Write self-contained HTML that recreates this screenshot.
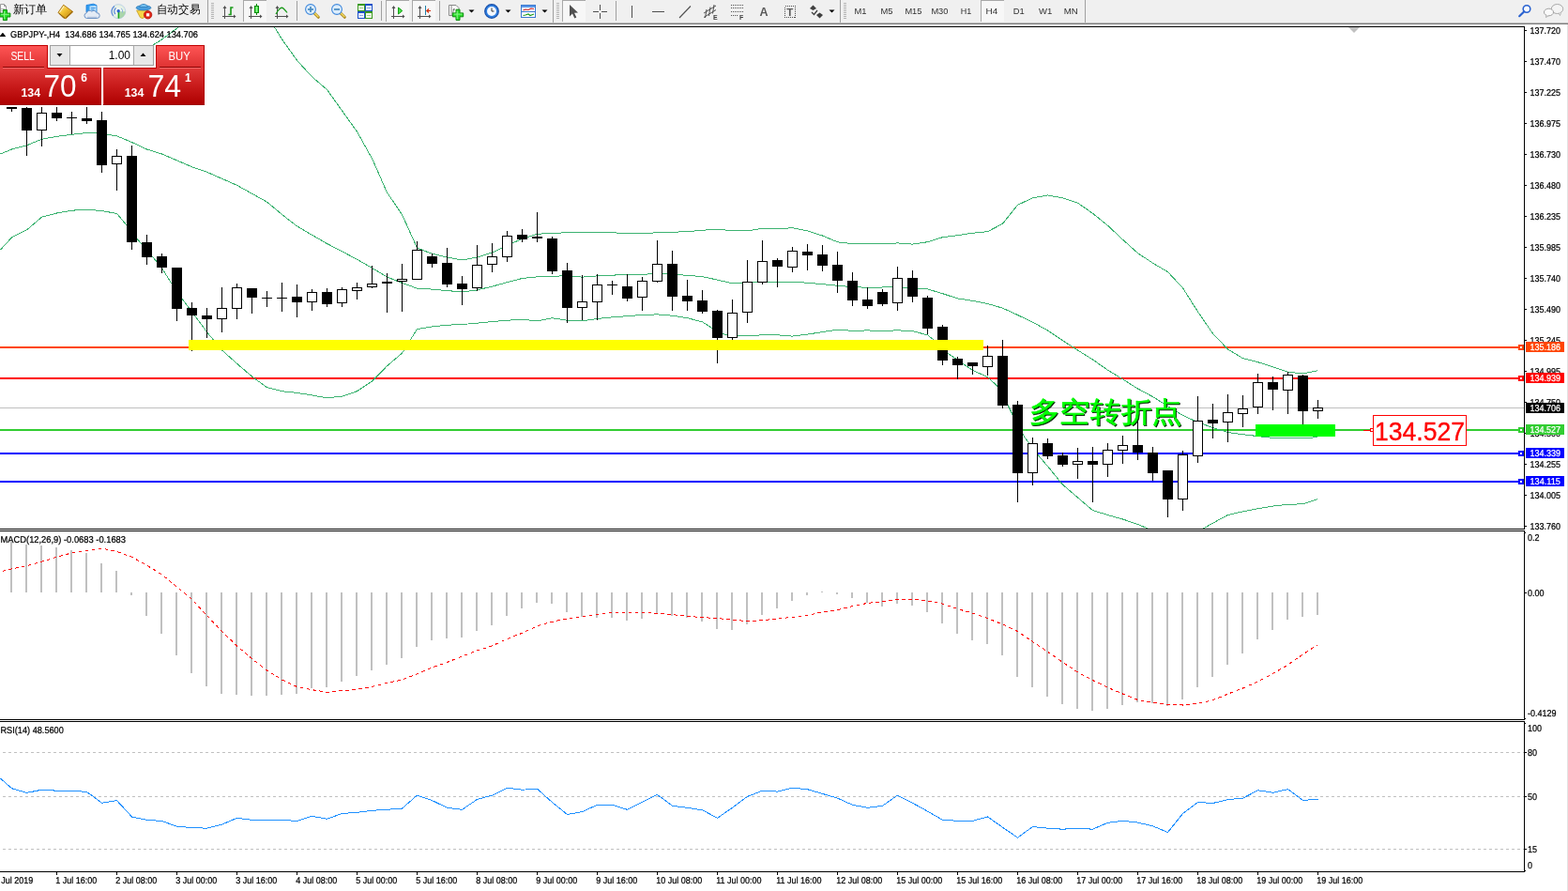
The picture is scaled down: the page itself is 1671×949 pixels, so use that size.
<!DOCTYPE html>
<html lang="zh"><head><meta charset="utf-8"><title>GBPJPY-,H4</title>
<style>
html,body{margin:0;padding:0;background:#fff;}
body{width:1671px;height:949px;overflow:hidden;position:relative;font-family:"Liberation Sans", sans-serif;}
svg{position:absolute;left:0;top:0;display:block;}
svg text{font-family:"Liberation Sans", sans-serif;white-space:pre;}
.ce{shape-rendering:crispEdges;}
</style></head><body>
<svg width="1671" height="949" viewBox="0 0 1671 949">
<defs>
<linearGradient id="gSell" x1="0" y1="0" x2="0" y2="1"><stop offset="0" stop-color="#ff5656"/><stop offset="1" stop-color="#dc3030"/></linearGradient>
<linearGradient id="gPrice" x1="0" y1="0" x2="0" y2="1"><stop offset="0" stop-color="#e03a3a"/><stop offset="0.5" stop-color="#c81a1a"/><stop offset="1" stop-color="#ad0000"/></linearGradient>
<clipPath id="cMain"><rect x="0" y="29" width="1624" height="534"/></clipPath>
<clipPath id="cMacd"><rect x="0" y="566" width="1624" height="200"/></clipPath>
<clipPath id="cRsi"><rect x="0" y="769" width="1624" height="159"/></clipPath>
</defs>
<rect x="0" y="0" width="1671" height="949" fill="#fff"/>

<g id="main" class="ce" clip-path="url(#cMain)">
<rect x="0" y="434" width="1624" height="1" fill="#c0c0c0" />
<rect x="0" y="369" width="1624" height="2" fill="#ff4500" />
<rect x="0" y="402" width="1624" height="2" fill="#ff0000" />
<rect x="0" y="457" width="1624" height="2" fill="#32cd32" />
<rect x="0" y="482" width="1624" height="2" fill="#0000ff" />
<rect x="0" y="512" width="1624" height="2" fill="#0000ff" />
</g>
<g id="bands" clip-path="url(#cMain)">
<polyline class="ce" points="100.5,80.5 140.5,60.5 158.5,50.5 165.5,46.5 172.5,42.0 180.5,36.0 189.5,29.5 200.5,20.5 240.5,5.5 280.5,18.5 292.6,29.0 300.5,41.9 316.5,64.3 332.5,81.8 348.5,95.5 364.5,117.9 380.5,140.3 396.5,168.9 412.5,205.0 428.5,228.6 444.5,264.1 460.5,270.3 476.5,274.0 492.5,277.0 508.5,274.0 524.5,269.0 540.5,261.5 556.5,254.3 572.5,249.3 588.5,248.3 604.5,247.8 620.5,247.8 636.5,247.8 652.5,247.8 668.5,248.5 684.5,248.5 700.5,247.8 716.5,247.3 732.5,246.6 748.5,245.3 764.5,244.1 780.5,245.8 796.5,245.8 812.5,243.3 828.5,243.6 844.5,242.8 860.5,245.8 876.5,251.0 892.5,257.8 908.5,259.7 924.5,259.7 940.5,259.9 956.5,258.9 972.5,260.1 988.5,257.7 1004.5,252.7 1020.5,250.7 1036.5,248.2 1052.5,246.7 1068.5,238.3 1084.5,218.3 1100.5,210.9 1116.5,207.9 1132.5,210.9 1148.5,216.1 1164.5,227.3 1180.5,240.2 1196.5,255.2 1212.5,269.6 1228.5,280.2 1244.5,289.6 1260.5,306.8 1276.5,332.0 1292.5,355.3 1308.5,372.0 1324.5,381.7 1340.5,385.7 1356.5,390.8 1372.5,396.2 1388.5,397.9 1404.5,394.7" fill="none" stroke="#3cb371" stroke-width="1" />
<polyline class="ce" points="0.5,164.0 12.5,159.0 28.5,154.8 44.5,148.3 60.5,145.3 76.5,143.3 92.5,141.5 108.5,142.3 124.5,144.8 140.5,151.5 156.5,159.0 172.5,164.0 188.5,170.9 204.5,177.7 220.5,183.2 236.5,190.3 252.5,197.3 268.5,206.2 284.5,215.1 300.5,228.5 316.5,240.9 332.5,250.3 348.5,259.5 364.5,267.8 380.5,276.3 396.5,285.5 412.5,295.0 428.5,301.4 444.5,307.1 460.5,308.1 476.5,309.6 492.5,310.9 508.5,308.9 524.5,305.1 540.5,300.7 556.5,296.5 572.5,294.9 588.5,294.1 604.5,293.9 620.5,295.1 636.5,293.9 652.5,293.1 668.5,292.6 684.5,292.6 700.5,290.9 716.5,292.1 732.5,293.4 748.5,294.6 764.5,298.1 780.5,301.8 796.5,301.3 812.5,300.1 828.5,300.1 844.5,300.1 860.5,301.3 876.5,302.6 892.5,304.3 908.5,305.6 924.5,306.3 940.5,306.0 956.5,305.6 972.5,307.3 988.5,307.9 1004.5,312.7 1020.5,317.9 1036.5,320.4 1052.5,323.5 1068.5,328.2 1084.5,335.5 1100.5,343.2 1116.5,351.9 1132.5,362.7 1148.5,373.0 1164.5,383.0 1180.5,394.2 1196.5,403.9 1212.5,414.0 1228.5,422.6 1244.5,432.5 1260.5,442.5 1276.5,449.7 1292.5,455.6 1308.5,460.5 1324.5,462.7 1340.5,464.6 1356.5,466.4 1372.5,467.0 1388.5,466.9 1404.5,465.5" fill="none" stroke="#3cb371" stroke-width="1" />
<polyline class="ce" points="0.5,266.0 12.5,252.9 28.5,244.9 44.5,231.2 60.5,227.0 76.5,224.2 92.5,223.2 108.5,224.5 124.5,227.5 134.9,239.9 147.5,256.1 156.5,266.0 172.5,285.5 188.5,311.0 204.5,332.0 220.5,353.7 236.5,372.9 252.5,387.3 268.5,401.0 284.5,412.7 300.5,416.7 316.5,418.4 332.5,420.9 348.5,423.9 364.5,422.1 380.5,416.7 396.5,406.0 412.5,389.8 428.5,376.1 444.5,350.5 460.5,348.0 476.5,346.2 492.5,345.5 508.5,344.2 524.5,342.5 540.5,341.2 556.5,340.3 572.5,341.8 588.5,338.7 604.5,341.2 620.5,341.9 636.5,339.4 652.5,337.9 668.5,336.7 684.5,335.4 700.5,334.9 716.5,336.2 732.5,338.7 748.5,342.9 759.5,349.9 772.1,356.1 780.5,357.5 796.5,357.8 812.5,356.8 828.5,356.8 844.5,358.1 860.5,356.1 876.5,353.6 892.5,351.1 908.5,352.4 924.5,351.9 940.5,352.6 956.5,351.8 972.5,352.7 988.5,356.8 995.3,362.2 1004.5,370.5 1011.5,377.2 1020.5,383.5 1036.5,394.4 1052.5,401.6 1062.5,411.0 1068.5,420.5 1075.5,434.4 1084.5,452.5 1091.5,465.0 1100.5,477.5 1108.5,487.3 1116.5,496.6 1132.5,516.2 1148.5,529.9 1164.5,543.6 1180.5,548.5 1196.5,553.0 1212.5,558.5 1224.5,563.5 1240.5,568.5 1260.5,569.5 1281.5,563.5 1292.5,557.2 1308.5,548.5 1324.5,544.8 1340.5,541.8 1356.5,539.1 1372.5,537.3 1388.5,536.8 1404.5,531.6" fill="none" stroke="#3cb371" stroke-width="1" />
</g>
<g id="candles" class="ce" clip-path="url(#cMain)">
<rect x="12" y="114" width="1" height="5" fill="#000" />
<rect x="7" y="114" width="11" height="2" fill="#000" />
<rect x="28" y="114" width="1" height="52" fill="#000" />
<rect x="23" y="115" width="11" height="24" fill="#000" />
<rect x="44" y="114" width="1" height="42" fill="#000" />
<rect x="39" y="120" width="11" height="19" fill="#000" />
<rect x="40" y="121" width="9" height="17" fill="#fff" />
<rect x="60" y="114" width="1" height="15" fill="#000" />
<rect x="55" y="120" width="11" height="6" fill="#000" />
<rect x="76" y="119" width="1" height="24" fill="#000" />
<rect x="71" y="125" width="11" height="1" fill="#000" />
<rect x="92" y="114" width="1" height="18" fill="#000" />
<rect x="87" y="126" width="11" height="3" fill="#000" />
<rect x="108" y="119" width="1" height="65" fill="#000" />
<rect x="103" y="128" width="11" height="48" fill="#000" />
<rect x="124" y="159" width="1" height="44" fill="#000" />
<rect x="119" y="166" width="11" height="9" fill="#000" />
<rect x="120" y="167" width="9" height="7" fill="#fff" />
<rect x="140" y="155" width="1" height="111" fill="#000" />
<rect x="135" y="166" width="11" height="92" fill="#000" />
<rect x="156" y="250" width="1" height="32" fill="#000" />
<rect x="151" y="258" width="11" height="16" fill="#000" />
<rect x="172" y="270" width="1" height="21" fill="#000" />
<rect x="167" y="273" width="11" height="12" fill="#000" />
<rect x="188" y="285" width="1" height="57" fill="#000" />
<rect x="183" y="285" width="11" height="44" fill="#000" />
<rect x="204" y="322" width="1" height="52" fill="#000" />
<rect x="199" y="328" width="11" height="8" fill="#000" />
<rect x="220" y="328" width="1" height="32" fill="#000" />
<rect x="215" y="336" width="11" height="4" fill="#000" />
<rect x="236" y="306" width="1" height="48" fill="#000" />
<rect x="231" y="328" width="11" height="12" fill="#000" />
<rect x="232" y="329" width="9" height="10" fill="#fff" />
<rect x="252" y="302" width="1" height="38" fill="#000" />
<rect x="247" y="306" width="11" height="23" fill="#000" />
<rect x="248" y="307" width="9" height="21" fill="#fff" />
<rect x="268" y="307" width="1" height="27" fill="#000" />
<rect x="263" y="307" width="11" height="10" fill="#000" />
<rect x="284" y="310" width="1" height="17" fill="#000" />
<rect x="279" y="317" width="11" height="1" fill="#000" />
<rect x="300" y="301" width="1" height="31" fill="#000" />
<rect x="295" y="317" width="11" height="1" fill="#000" />
<rect x="316" y="303" width="1" height="35" fill="#000" />
<rect x="311" y="316" width="11" height="6" fill="#000" />
<rect x="332" y="308" width="1" height="23" fill="#000" />
<rect x="327" y="311" width="11" height="11" fill="#000" />
<rect x="328" y="312" width="9" height="9" fill="#fff" />
<rect x="348" y="307" width="1" height="20" fill="#000" />
<rect x="343" y="311" width="11" height="13" fill="#000" />
<rect x="364" y="306" width="1" height="21" fill="#000" />
<rect x="359" y="308" width="11" height="15" fill="#000" />
<rect x="360" y="309" width="9" height="13" fill="#fff" />
<rect x="380" y="301" width="1" height="18" fill="#000" />
<rect x="375" y="306" width="11" height="4" fill="#000" />
<rect x="376" y="307" width="9" height="2" fill="#fff" />
<rect x="396" y="283" width="1" height="24" fill="#000" />
<rect x="391" y="302" width="11" height="4" fill="#000" />
<rect x="392" y="303" width="9" height="2" fill="#fff" />
<rect x="412" y="291" width="1" height="42" fill="#000" />
<rect x="407" y="300" width="11" height="2" fill="#000" />
<rect x="428" y="281" width="1" height="51" fill="#000" />
<rect x="423" y="297" width="11" height="3" fill="#000" />
<rect x="424" y="298" width="9" height="1" fill="#fff" />
<rect x="444" y="257" width="1" height="41" fill="#000" />
<rect x="439" y="266" width="11" height="32" fill="#000" />
<rect x="440" y="267" width="9" height="30" fill="#fff" />
<rect x="460" y="270" width="1" height="15" fill="#000" />
<rect x="455" y="273" width="11" height="8" fill="#000" />
<rect x="476" y="264" width="1" height="42" fill="#000" />
<rect x="471" y="280" width="11" height="23" fill="#000" />
<rect x="492" y="294" width="1" height="31" fill="#000" />
<rect x="487" y="302" width="11" height="6" fill="#000" />
<rect x="508" y="261" width="1" height="49" fill="#000" />
<rect x="503" y="282" width="11" height="25" fill="#000" />
<rect x="504" y="283" width="9" height="23" fill="#fff" />
<rect x="524" y="259" width="1" height="31" fill="#000" />
<rect x="519" y="273" width="11" height="9" fill="#000" />
<rect x="520" y="274" width="9" height="7" fill="#fff" />
<rect x="540" y="246" width="1" height="33" fill="#000" />
<rect x="535" y="251" width="11" height="23" fill="#000" />
<rect x="536" y="252" width="9" height="21" fill="#fff" />
<rect x="556" y="244" width="1" height="14" fill="#000" />
<rect x="551" y="250" width="11" height="5" fill="#000" />
<rect x="572" y="226" width="1" height="32" fill="#000" />
<rect x="567" y="252" width="11" height="2" fill="#000" />
<rect x="588" y="252" width="1" height="40" fill="#000" />
<rect x="583" y="254" width="11" height="35" fill="#000" />
<rect x="604" y="280" width="1" height="64" fill="#000" />
<rect x="599" y="288" width="11" height="40" fill="#000" />
<rect x="620" y="293" width="1" height="48" fill="#000" />
<rect x="615" y="321" width="11" height="7" fill="#000" />
<rect x="616" y="322" width="9" height="5" fill="#fff" />
<rect x="636" y="292" width="1" height="49" fill="#000" />
<rect x="631" y="303" width="11" height="19" fill="#000" />
<rect x="632" y="304" width="9" height="17" fill="#fff" />
<rect x="652" y="299" width="1" height="15" fill="#000" />
<rect x="647" y="303" width="11" height="1" fill="#000" />
<rect x="668" y="292" width="1" height="29" fill="#000" />
<rect x="663" y="305" width="11" height="13" fill="#000" />
<rect x="684" y="295" width="1" height="36" fill="#000" />
<rect x="679" y="299" width="11" height="18" fill="#000" />
<rect x="680" y="300" width="9" height="16" fill="#fff" />
<rect x="700" y="256" width="1" height="45" fill="#000" />
<rect x="695" y="281" width="11" height="19" fill="#000" />
<rect x="696" y="282" width="9" height="17" fill="#fff" />
<rect x="716" y="267" width="1" height="64" fill="#000" />
<rect x="711" y="281" width="11" height="35" fill="#000" />
<rect x="732" y="298" width="1" height="33" fill="#000" />
<rect x="727" y="315" width="11" height="6" fill="#000" />
<rect x="748" y="309" width="1" height="25" fill="#000" />
<rect x="743" y="320" width="11" height="12" fill="#000" />
<rect x="764" y="330" width="1" height="57" fill="#000" />
<rect x="759" y="331" width="11" height="29" fill="#000" />
<rect x="780" y="319" width="1" height="43" fill="#000" />
<rect x="775" y="333" width="11" height="27" fill="#000" />
<rect x="776" y="334" width="9" height="25" fill="#fff" />
<rect x="796" y="277" width="1" height="67" fill="#000" />
<rect x="791" y="300" width="11" height="33" fill="#000" />
<rect x="792" y="301" width="9" height="31" fill="#fff" />
<rect x="812" y="256" width="1" height="47" fill="#000" />
<rect x="807" y="278" width="11" height="23" fill="#000" />
<rect x="808" y="279" width="9" height="21" fill="#fff" />
<rect x="828" y="275" width="1" height="31" fill="#000" />
<rect x="823" y="277" width="11" height="7" fill="#000" />
<rect x="844" y="263" width="1" height="27" fill="#000" />
<rect x="839" y="267" width="11" height="18" fill="#000" />
<rect x="840" y="268" width="9" height="16" fill="#fff" />
<rect x="860" y="260" width="1" height="28" fill="#000" />
<rect x="855" y="268" width="11" height="4" fill="#000" />
<rect x="876" y="261" width="1" height="28" fill="#000" />
<rect x="871" y="271" width="11" height="12" fill="#000" />
<rect x="892" y="268" width="1" height="44" fill="#000" />
<rect x="887" y="282" width="11" height="17" fill="#000" />
<rect x="908" y="290" width="1" height="36" fill="#000" />
<rect x="903" y="299" width="11" height="21" fill="#000" />
<rect x="924" y="306" width="1" height="23" fill="#000" />
<rect x="919" y="319" width="11" height="7" fill="#000" />
<rect x="940" y="308" width="1" height="18" fill="#000" />
<rect x="935" y="311" width="11" height="13" fill="#000" />
<rect x="956" y="284" width="1" height="47" fill="#000" />
<rect x="951" y="296" width="11" height="27" fill="#000" />
<rect x="952" y="297" width="9" height="25" fill="#fff" />
<rect x="972" y="288" width="1" height="34" fill="#000" />
<rect x="967" y="296" width="11" height="20" fill="#000" />
<rect x="988" y="315" width="1" height="41" fill="#000" />
<rect x="983" y="317" width="11" height="33" fill="#000" />
<rect x="1004" y="346" width="1" height="43" fill="#000" />
<rect x="999" y="348" width="11" height="36" fill="#000" />
<rect x="1020" y="380" width="1" height="24" fill="#000" />
<rect x="1015" y="382" width="11" height="7" fill="#000" />
<rect x="1036" y="386" width="1" height="13" fill="#000" />
<rect x="1031" y="386" width="11" height="4" fill="#000" />
<rect x="1052" y="368" width="1" height="32" fill="#000" />
<rect x="1047" y="379" width="11" height="12" fill="#000" />
<rect x="1048" y="380" width="9" height="10" fill="#fff" />
<rect x="1068" y="362" width="1" height="73" fill="#000" />
<rect x="1063" y="379" width="11" height="53" fill="#000" />
<rect x="1084" y="427" width="1" height="108" fill="#000" />
<rect x="1079" y="431" width="11" height="73" fill="#000" />
<rect x="1100" y="466" width="1" height="51" fill="#000" />
<rect x="1095" y="472" width="11" height="32" fill="#000" />
<rect x="1096" y="473" width="9" height="30" fill="#fff" />
<rect x="1116" y="467" width="1" height="22" fill="#000" />
<rect x="1111" y="472" width="11" height="14" fill="#000" />
<rect x="1132" y="482" width="1" height="15" fill="#000" />
<rect x="1127" y="485" width="11" height="10" fill="#000" />
<rect x="1148" y="477" width="1" height="33" fill="#000" />
<rect x="1143" y="491" width="11" height="4" fill="#000" />
<rect x="1144" y="492" width="9" height="2" fill="#fff" />
<rect x="1164" y="476" width="1" height="59" fill="#000" />
<rect x="1159" y="491" width="11" height="4" fill="#000" />
<rect x="1180" y="472" width="1" height="36" fill="#000" />
<rect x="1175" y="479" width="11" height="16" fill="#000" />
<rect x="1176" y="480" width="9" height="14" fill="#fff" />
<rect x="1196" y="464" width="1" height="30" fill="#000" />
<rect x="1191" y="474" width="11" height="6" fill="#000" />
<rect x="1192" y="475" width="9" height="4" fill="#fff" />
<rect x="1212" y="444" width="1" height="46" fill="#000" />
<rect x="1207" y="474" width="11" height="8" fill="#000" />
<rect x="1228" y="476" width="1" height="36" fill="#000" />
<rect x="1223" y="482" width="11" height="22" fill="#000" />
<rect x="1244" y="501" width="1" height="50" fill="#000" />
<rect x="1239" y="501" width="11" height="31" fill="#000" />
<rect x="1260" y="480" width="1" height="64" fill="#000" />
<rect x="1255" y="484" width="11" height="48" fill="#000" />
<rect x="1256" y="485" width="9" height="46" fill="#fff" />
<rect x="1276" y="422" width="1" height="71" fill="#000" />
<rect x="1271" y="448" width="11" height="38" fill="#000" />
<rect x="1272" y="449" width="9" height="36" fill="#fff" />
<rect x="1292" y="430" width="1" height="37" fill="#000" />
<rect x="1287" y="447" width="11" height="4" fill="#000" />
<rect x="1308" y="420" width="1" height="51" fill="#000" />
<rect x="1303" y="439" width="11" height="11" fill="#000" />
<rect x="1304" y="440" width="9" height="9" fill="#fff" />
<rect x="1324" y="421" width="1" height="34" fill="#000" />
<rect x="1319" y="435" width="11" height="6" fill="#000" />
<rect x="1320" y="436" width="9" height="4" fill="#fff" />
<rect x="1340" y="398" width="1" height="43" fill="#000" />
<rect x="1335" y="407" width="11" height="27" fill="#000" />
<rect x="1336" y="408" width="9" height="25" fill="#fff" />
<rect x="1356" y="401" width="1" height="36" fill="#000" />
<rect x="1351" y="407" width="11" height="8" fill="#000" />
<rect x="1372" y="396" width="1" height="45" fill="#000" />
<rect x="1367" y="399" width="11" height="17" fill="#000" />
<rect x="1368" y="400" width="9" height="15" fill="#fff" />
<rect x="1388" y="399" width="1" height="53" fill="#000" />
<rect x="1383" y="400" width="11" height="38" fill="#000" />
<rect x="1404" y="426" width="1" height="20" fill="#000" />
<rect x="1399" y="434" width="11" height="4" fill="#000" />
<rect x="1400" y="435" width="9" height="2" fill="#fff" />
</g>
<g id="objs" class="ce">
<rect x="201" y="362" width="847" height="11" fill="#ffff00" />
<rect x="1338" y="452" width="85" height="13" fill="#00ff00" />
</g>
<text x="1096.8" y="449" font-size="30" font-weight="500" fill="#002000" stroke="#002000" stroke-width="0.6" textLength="163" lengthAdjust="spacingAndGlyphs" font-family='"Liberation Sans", "Noto Sans CJK SC", sans-serif' transform="translate(1,1)">多空转折点</text>
<text x="1096.8" y="449" font-size="30" font-weight="500" fill="#00ff00" stroke="#00ff00" stroke-width="0.6" textLength="163" lengthAdjust="spacingAndGlyphs" font-family='"Liberation Sans", "Noto Sans CJK SC", sans-serif'>多空转折点</text>
<g class="ce">
<rect x="1453" y="458" width="8" height="1" fill="#ff0000" />
<rect x="1460.5" y="456.5" width="3" height="3" fill="#fff" stroke="#ff0000" stroke-width="1"/>
<rect x="1463.5" y="442.5" width="99" height="32" fill="#fff" stroke="#ff0000" stroke-width="1"/>
</g>
<text x="1465" y="469" font-size="28" fill="#ff0000" textLength="96.0" lengthAdjust="spacingAndGlyphs" stroke="#ff0000" stroke-width="0.35">134.527</text>
<g id="frames" class="ce">
<rect x="0" y="28" width="1625" height="1" fill="#000" />
<rect x="1624" y="28" width="1" height="535" fill="#000" />
<rect x="0" y="563" width="1625" height="1" fill="#000" />
<rect x="0" y="565" width="1625" height="1" fill="#000" />
<rect x="1624" y="565" width="1" height="201" fill="#000" />
<rect x="0" y="766" width="1625" height="1" fill="#000" />
<rect x="0" y="768" width="1625" height="1" fill="#000" />
<rect x="1624" y="768" width="1" height="160" fill="#000" />
<rect x="0" y="928" width="1625" height="1" fill="#000" />
<rect x="1625" y="567" width="1" height="1" fill="#000" />
<rect x="1625" y="765" width="1" height="1" fill="#000" />
<rect x="1625" y="770" width="1" height="1" fill="#000" />
<rect x="1625" y="927" width="1" height="1" fill="#000" />
</g>
<g id="paxis">
<rect class="ce" x="1625" y="32" width="2" height="1" fill="#000"/>
<text transform="translate(1630.5,36) rotate(0.03) scale(1,1.1)" font-size="9" fill="#000" stroke="#000" stroke-width="0.22" textLength="32.4" lengthAdjust="spacingAndGlyphs" >137.720</text>
<rect class="ce" x="1625" y="65" width="2" height="1" fill="#000"/>
<text transform="translate(1630.5,69) rotate(0.03) scale(1,1.1)" font-size="9" fill="#000" stroke="#000" stroke-width="0.22" textLength="32.4" lengthAdjust="spacingAndGlyphs" >137.470</text>
<rect class="ce" x="1625" y="98" width="2" height="1" fill="#000"/>
<text transform="translate(1630.5,102) rotate(0.03) scale(1,1.1)" font-size="9" fill="#000" stroke="#000" stroke-width="0.22" textLength="32.4" lengthAdjust="spacingAndGlyphs" >137.225</text>
<rect class="ce" x="1625" y="131" width="2" height="1" fill="#000"/>
<text transform="translate(1630.5,135) rotate(0.03) scale(1,1.1)" font-size="9" fill="#000" stroke="#000" stroke-width="0.22" textLength="32.4" lengthAdjust="spacingAndGlyphs" >136.975</text>
<rect class="ce" x="1625" y="164" width="2" height="1" fill="#000"/>
<text transform="translate(1630.5,168) rotate(0.03) scale(1,1.1)" font-size="9" fill="#000" stroke="#000" stroke-width="0.22" textLength="32.4" lengthAdjust="spacingAndGlyphs" >136.730</text>
<rect class="ce" x="1625" y="197" width="2" height="1" fill="#000"/>
<text transform="translate(1630.5,201) rotate(0.03) scale(1,1.1)" font-size="9" fill="#000" stroke="#000" stroke-width="0.22" textLength="32.4" lengthAdjust="spacingAndGlyphs" >136.480</text>
<rect class="ce" x="1625" y="230" width="2" height="1" fill="#000"/>
<text transform="translate(1630.5,234) rotate(0.03) scale(1,1.1)" font-size="9" fill="#000" stroke="#000" stroke-width="0.22" textLength="32.4" lengthAdjust="spacingAndGlyphs" >136.235</text>
<rect class="ce" x="1625" y="263" width="2" height="1" fill="#000"/>
<text transform="translate(1630.5,267) rotate(0.03) scale(1,1.1)" font-size="9" fill="#000" stroke="#000" stroke-width="0.22" textLength="32.4" lengthAdjust="spacingAndGlyphs" >135.985</text>
<rect class="ce" x="1625" y="296" width="2" height="1" fill="#000"/>
<text transform="translate(1630.5,300) rotate(0.03) scale(1,1.1)" font-size="9" fill="#000" stroke="#000" stroke-width="0.22" textLength="32.4" lengthAdjust="spacingAndGlyphs" >135.740</text>
<rect class="ce" x="1625" y="329" width="2" height="1" fill="#000"/>
<text transform="translate(1630.5,333) rotate(0.03) scale(1,1.1)" font-size="9" fill="#000" stroke="#000" stroke-width="0.22" textLength="32.4" lengthAdjust="spacingAndGlyphs" >135.490</text>
<rect class="ce" x="1625" y="362" width="2" height="1" fill="#000"/>
<text transform="translate(1630.5,366) rotate(0.03) scale(1,1.1)" font-size="9" fill="#000" stroke="#000" stroke-width="0.22" textLength="32.4" lengthAdjust="spacingAndGlyphs" >135.245</text>
<rect class="ce" x="1625" y="395" width="2" height="1" fill="#000"/>
<text transform="translate(1630.5,399) rotate(0.03) scale(1,1.1)" font-size="9" fill="#000" stroke="#000" stroke-width="0.22" textLength="32.4" lengthAdjust="spacingAndGlyphs" >134.995</text>
<rect class="ce" x="1625" y="428" width="2" height="1" fill="#000"/>
<text transform="translate(1630.5,432) rotate(0.03) scale(1,1.1)" font-size="9" fill="#000" stroke="#000" stroke-width="0.22" textLength="32.4" lengthAdjust="spacingAndGlyphs" >134.750</text>
<rect class="ce" x="1625" y="461" width="2" height="1" fill="#000"/>
<text transform="translate(1630.5,465) rotate(0.03) scale(1,1.1)" font-size="9" fill="#000" stroke="#000" stroke-width="0.22" textLength="32.4" lengthAdjust="spacingAndGlyphs" >134.500</text>
<rect class="ce" x="1625" y="494" width="2" height="1" fill="#000"/>
<text transform="translate(1630.5,498) rotate(0.03) scale(1,1.1)" font-size="9" fill="#000" stroke="#000" stroke-width="0.22" textLength="32.4" lengthAdjust="spacingAndGlyphs" >134.255</text>
<rect class="ce" x="1625" y="527" width="2" height="1" fill="#000"/>
<text transform="translate(1630.5,531) rotate(0.03) scale(1,1.1)" font-size="9" fill="#000" stroke="#000" stroke-width="0.22" textLength="32.4" lengthAdjust="spacingAndGlyphs" >134.005</text>
<rect class="ce" x="1625" y="560" width="2" height="1" fill="#000"/>
<text transform="translate(1630.5,564) rotate(0.03) scale(1,1.1)" font-size="9" fill="#000" stroke="#000" stroke-width="0.22" textLength="32.4" lengthAdjust="spacingAndGlyphs" >133.760</text>
</g>
<rect x="1618" y="367" width="6" height="6" fill="#ff4500" class="ce"/>
<rect x="1620" y="369" width="2" height="2" fill="#fff" class="ce"/>
<rect x="1626" y="364" width="41" height="11" fill="#ff4500" class="ce"/>
<text transform="translate(1630.5,373) rotate(0.03) scale(1,1.1)" font-size="9" fill="#fff" stroke="#fff" stroke-width="0.22" textLength="32.4" lengthAdjust="spacingAndGlyphs" >135.186</text>
<rect x="1618" y="400" width="6" height="6" fill="#ff0000" class="ce"/>
<rect x="1620" y="402" width="2" height="2" fill="#fff" class="ce"/>
<rect x="1626" y="397" width="41" height="11" fill="#ff0000" class="ce"/>
<text transform="translate(1630.5,406) rotate(0.03) scale(1,1.1)" font-size="9" fill="#fff" stroke="#fff" stroke-width="0.22" textLength="32.4" lengthAdjust="spacingAndGlyphs" >134.939</text>
<rect x="1618" y="455" width="6" height="6" fill="#32cd32" class="ce"/>
<rect x="1620" y="457" width="2" height="2" fill="#fff" class="ce"/>
<rect x="1626" y="452" width="41" height="11" fill="#32cd32" class="ce"/>
<text transform="translate(1630.5,461) rotate(0.03) scale(1,1.1)" font-size="9" fill="#fff" stroke="#fff" stroke-width="0.22" textLength="32.4" lengthAdjust="spacingAndGlyphs" >134.527</text>
<rect x="1618" y="480" width="6" height="6" fill="#0000ff" class="ce"/>
<rect x="1620" y="482" width="2" height="2" fill="#fff" class="ce"/>
<rect x="1626" y="477" width="41" height="11" fill="#0000ff" class="ce"/>
<text transform="translate(1630.5,486) rotate(0.03) scale(1,1.1)" font-size="9" fill="#fff" stroke="#fff" stroke-width="0.22" textLength="32.4" lengthAdjust="spacingAndGlyphs" >134.339</text>
<rect x="1618" y="510" width="6" height="6" fill="#0000ff" class="ce"/>
<rect x="1620" y="512" width="2" height="2" fill="#fff" class="ce"/>
<rect x="1626" y="507" width="41" height="11" fill="#0000ff" class="ce"/>
<text transform="translate(1630.5,516) rotate(0.03) scale(1,1.1)" font-size="9" fill="#fff" stroke="#fff" stroke-width="0.22" textLength="32.4" lengthAdjust="spacingAndGlyphs" >134.115</text>
<rect x="1626" y="429" width="41" height="11" fill="#000" class="ce"/>
<text transform="translate(1630.5,438) rotate(0.03) scale(1,1.1)" font-size="9" fill="#fff" stroke="#fff" stroke-width="0.22" textLength="32.4" lengthAdjust="spacingAndGlyphs" >134.706</text>
<polygon points="1437,29 1449,29 1443,35" fill="#c0c0c0"/>
<polygon points="-0.5,39 2.6,35 3.2,35 6.3,39" fill="#000"/>
<text transform="translate(11,40) rotate(0.03) scale(1,1.1)" font-size="9" fill="#000" stroke="#000" stroke-width="0.22" textLength="200.0" lengthAdjust="spacingAndGlyphs" >GBPJPY-,H4  134.686 134.765 134.624 134.706</text>
<g id="oneclick">
<rect x="0" y="48" width="218" height="64" fill="#fff" class="ce"/>
<rect x="0" y="48" width="51" height="25" fill="url(#gSell)" />
<rect x="0" y="72" width="108" height="40" fill="url(#gPrice)" />
<rect x="166" y="48" width="52" height="25" fill="url(#gSell)" />
<rect x="110" y="72" width="108" height="40" fill="url(#gPrice)" />
<g class="ce">
<rect x="0" y="48" width="51" height="1" fill="#c00000" />
<rect x="50" y="48" width="1" height="25" fill="#c00000" />
<rect x="50" y="72" width="58" height="1" fill="#c00000" />
<rect x="107" y="72" width="1" height="40" fill="#b00000" />
<rect x="166" y="48" width="52" height="1" fill="#c00000" />
<rect x="166" y="48" width="1" height="25" fill="#c00000" />
<rect x="110" y="72" width="57" height="1" fill="#c00000" />
<rect x="217" y="48" width="1" height="64" fill="#b00000" />
<rect x="110" y="72" width="1" height="40" fill="#c83030" />
<rect x="0" y="111" width="108" height="1" fill="#a00000" />
<rect x="110" y="111" width="108" height="1" fill="#a00000" />
<rect x="3" y="71" width="44" height="1" fill="#8b0000" />
<rect x="3" y="72" width="44" height="1" fill="#f46a6a" />
<rect x="170" y="71" width="44" height="1" fill="#8b0000" />
<rect x="170" y="72" width="44" height="1" fill="#f46a6a" />
<rect x="53.5" y="48.5" width="110" height="21" fill="#fff" stroke="#a0a0a0" stroke-width="1"/>
<rect x="54" y="49" width="20" height="20" fill="#e8e8e8" />
<rect x="74" y="49" width="1" height="20" fill="#a8a8a8" />
<rect x="143" y="49" width="20" height="20" fill="#e8e8e8" />
<rect x="142" y="49" width="1" height="20" fill="#a8a8a8" />
</g>
<polygon points="60.5,57 66.5,57 63.5,60.5" fill="#000"/>
<polygon points="149.5,60 155.5,60 152.5,56.5" fill="#000"/>
<text x="139" y="63" font-size="12" fill="#000" text-anchor="end" >1.00</text>
<text x="11.4" y="64" font-size="12" fill="#fff" textLength="25.5" lengthAdjust="spacingAndGlyphs" >SELL</text>
<text x="179.5" y="64" font-size="12" fill="#fff" textLength="23.2" lengthAdjust="spacingAndGlyphs" >BUY</text>
<text x="22.5" y="103" font-size="12" fill="#fff" font-weight="bold" textLength="20.6" lengthAdjust="spacingAndGlyphs" >134</text>
<text x="46.6" y="103" font-size="34" fill="#fff" textLength="35.0" lengthAdjust="spacingAndGlyphs" >70</text>
<text x="86.3" y="86.8" font-size="12" fill="#fff" font-weight="bold" >6</text>
<text x="132.7" y="103" font-size="12" fill="#fff" font-weight="bold" textLength="20.6" lengthAdjust="spacingAndGlyphs" >134</text>
<text x="157.5" y="103" font-size="34" fill="#fff" textLength="35.7" lengthAdjust="spacingAndGlyphs" >74</text>
<text x="197" y="86.8" font-size="12" fill="#fff" font-weight="bold" >1</text>
</g>
<g id="macd" class="ce" clip-path="url(#cMacd)">
<rect x="11" y="577" width="2" height="54" fill="#c0c0c0" />
<rect x="27" y="580" width="2" height="51" fill="#c0c0c0" />
<rect x="43" y="581" width="2" height="50" fill="#c0c0c0" />
<rect x="59" y="583" width="2" height="48" fill="#c0c0c0" />
<rect x="75" y="586" width="2" height="45" fill="#c0c0c0" />
<rect x="91" y="589" width="2" height="42" fill="#c0c0c0" />
<rect x="107" y="600" width="2" height="31" fill="#c0c0c0" />
<rect x="123" y="608" width="2" height="23" fill="#c0c0c0" />
<rect x="139" y="631" width="2" height="3" fill="#c0c0c0" />
<rect x="155" y="631" width="2" height="25" fill="#c0c0c0" />
<rect x="171" y="631" width="2" height="44" fill="#c0c0c0" />
<rect x="187" y="631" width="2" height="67" fill="#c0c0c0" />
<rect x="203" y="631" width="2" height="86" fill="#c0c0c0" />
<rect x="219" y="631" width="2" height="100" fill="#c0c0c0" />
<rect x="235" y="631" width="2" height="108" fill="#c0c0c0" />
<rect x="251" y="631" width="2" height="109" fill="#c0c0c0" />
<rect x="267" y="631" width="2" height="110" fill="#c0c0c0" />
<rect x="283" y="631" width="2" height="110" fill="#c0c0c0" />
<rect x="299" y="631" width="2" height="109" fill="#c0c0c0" />
<rect x="315" y="631" width="2" height="108" fill="#c0c0c0" />
<rect x="331" y="631" width="2" height="102" fill="#c0c0c0" />
<rect x="347" y="631" width="2" height="101" fill="#c0c0c0" />
<rect x="363" y="631" width="2" height="95" fill="#c0c0c0" />
<rect x="379" y="631" width="2" height="89" fill="#c0c0c0" />
<rect x="395" y="631" width="2" height="83" fill="#c0c0c0" />
<rect x="411" y="631" width="2" height="77" fill="#c0c0c0" />
<rect x="427" y="631" width="2" height="70" fill="#c0c0c0" />
<rect x="443" y="631" width="2" height="58" fill="#c0c0c0" />
<rect x="459" y="631" width="2" height="51" fill="#c0c0c0" />
<rect x="475" y="631" width="2" height="49" fill="#c0c0c0" />
<rect x="491" y="631" width="2" height="48" fill="#c0c0c0" />
<rect x="507" y="631" width="2" height="41" fill="#c0c0c0" />
<rect x="523" y="631" width="2" height="35" fill="#c0c0c0" />
<rect x="539" y="631" width="2" height="25" fill="#c0c0c0" />
<rect x="555" y="631" width="2" height="17" fill="#c0c0c0" />
<rect x="571" y="631" width="2" height="11" fill="#c0c0c0" />
<rect x="587" y="631" width="2" height="12" fill="#c0c0c0" />
<rect x="603" y="631" width="2" height="21" fill="#c0c0c0" />
<rect x="619" y="631" width="2" height="26" fill="#c0c0c0" />
<rect x="635" y="631" width="2" height="27" fill="#c0c0c0" />
<rect x="651" y="631" width="2" height="27" fill="#c0c0c0" />
<rect x="667" y="631" width="2" height="30" fill="#c0c0c0" />
<rect x="683" y="631" width="2" height="28" fill="#c0c0c0" />
<rect x="699" y="631" width="2" height="22" fill="#c0c0c0" />
<rect x="715" y="631" width="2" height="25" fill="#c0c0c0" />
<rect x="731" y="631" width="2" height="27" fill="#c0c0c0" />
<rect x="747" y="631" width="2" height="31" fill="#c0c0c0" />
<rect x="763" y="631" width="2" height="39" fill="#c0c0c0" />
<rect x="779" y="631" width="2" height="40" fill="#c0c0c0" />
<rect x="795" y="631" width="2" height="34" fill="#c0c0c0" />
<rect x="811" y="631" width="2" height="24" fill="#c0c0c0" />
<rect x="827" y="631" width="2" height="17" fill="#c0c0c0" />
<rect x="843" y="631" width="2" height="9" fill="#c0c0c0" />
<rect x="859" y="631" width="2" height="3" fill="#c0c0c0" />
<rect x="875" y="630" width="2" height="1" fill="#c0c0c0" />
<rect x="891" y="631" width="2" height="2" fill="#c0c0c0" />
<rect x="907" y="631" width="2" height="6" fill="#c0c0c0" />
<rect x="923" y="631" width="2" height="11" fill="#c0c0c0" />
<rect x="939" y="631" width="2" height="15" fill="#c0c0c0" />
<rect x="955" y="631" width="2" height="12" fill="#c0c0c0" />
<rect x="971" y="631" width="2" height="14" fill="#c0c0c0" />
<rect x="987" y="631" width="2" height="21" fill="#c0c0c0" />
<rect x="1003" y="631" width="2" height="33" fill="#c0c0c0" />
<rect x="1019" y="631" width="2" height="44" fill="#c0c0c0" />
<rect x="1035" y="631" width="2" height="51" fill="#c0c0c0" />
<rect x="1051" y="631" width="2" height="55" fill="#c0c0c0" />
<rect x="1067" y="631" width="2" height="67" fill="#c0c0c0" />
<rect x="1083" y="631" width="2" height="90" fill="#c0c0c0" />
<rect x="1099" y="631" width="2" height="101" fill="#c0c0c0" />
<rect x="1115" y="631" width="2" height="111" fill="#c0c0c0" />
<rect x="1131" y="631" width="2" height="119" fill="#c0c0c0" />
<rect x="1147" y="631" width="2" height="124" fill="#c0c0c0" />
<rect x="1163" y="631" width="2" height="126" fill="#c0c0c0" />
<rect x="1179" y="631" width="2" height="124" fill="#c0c0c0" />
<rect x="1195" y="631" width="2" height="120" fill="#c0c0c0" />
<rect x="1211" y="631" width="2" height="117" fill="#c0c0c0" />
<rect x="1227" y="631" width="2" height="118" fill="#c0c0c0" />
<rect x="1243" y="631" width="2" height="121" fill="#c0c0c0" />
<rect x="1259" y="631" width="2" height="114" fill="#c0c0c0" />
<rect x="1275" y="631" width="2" height="101" fill="#c0c0c0" />
<rect x="1291" y="631" width="2" height="90" fill="#c0c0c0" />
<rect x="1307" y="631" width="2" height="77" fill="#c0c0c0" />
<rect x="1323" y="631" width="2" height="65" fill="#c0c0c0" />
<rect x="1339" y="631" width="2" height="50" fill="#c0c0c0" />
<rect x="1355" y="631" width="2" height="40" fill="#c0c0c0" />
<rect x="1371" y="631" width="2" height="29" fill="#c0c0c0" />
<rect x="1387" y="631" width="2" height="26" fill="#c0c0c0" />
<rect x="1403" y="631" width="2" height="24" fill="#c0c0c0" />
</g>
<g clip-path="url(#cMacd)">
<polyline class="ce" points="2.5,608.3 12.5,605.8 28.5,602.8 44.5,598.3 60.5,593.3 76.5,588.9 92.5,586.4 108.5,584.1 124.5,587.6 140.5,593.3 156.5,602.1 172.5,612.0 188.5,625.2 204.5,638.2 220.5,655.6 236.5,672.5 252.5,687.9 268.5,701.6 284.5,714.1 300.5,724.0 316.5,731.5 332.5,734.7 348.5,737.2 364.5,735.7 380.5,734.2 396.5,731.5 412.5,727.3 428.5,724.0 444.5,717.8 460.5,710.8 476.5,705.4 492.5,699.1 508.5,692.9 524.5,687.9 540.5,680.5 556.5,674.2 572.5,666.8 588.5,662.3 604.5,658.8 620.5,656.8 636.5,654.6 652.5,652.3 668.5,652.3 684.5,652.3 700.5,653.3 716.5,654.6 732.5,656.3 748.5,657.6 764.5,658.6 780.5,660.1 796.5,661.6 812.5,660.6 828.5,659.1 844.5,657.3 860.5,655.6 876.5,651.8 892.5,649.6 908.5,645.6 924.5,642.4 940.5,640.6 956.5,638.6 972.5,638.2 988.5,639.9 1004.5,643.1 1020.5,648.6 1036.5,653.1 1052.5,658.6 1068.5,665.0 1084.5,672.5 1100.5,683.5 1116.5,694.2 1132.5,705.4 1148.5,716.1 1164.5,724.5 1180.5,732.3 1196.5,739.0 1212.5,745.4 1228.5,748.5 1244.5,750.2 1260.5,751.0 1276.5,749.3 1292.5,745.7 1308.5,739.2 1324.5,733.0 1340.5,726.0 1356.5,717.5 1372.5,708.2 1388.5,696.9 1404.5,686.5" fill="none" stroke="#ff0000" stroke-width="1" stroke-dasharray="3.5 3.5"/>
</g>
<text transform="translate(0.5,578) rotate(0.03) scale(1,1.1)" font-size="9" fill="#000" stroke="#000" stroke-width="0.22" textLength="133.5" lengthAdjust="spacingAndGlyphs" >MACD(12,26,9) -0.0683 -0.1683</text>
<text transform="translate(1628,576) rotate(0.03) scale(1,1.1)" font-size="9" fill="#000" stroke="#000" stroke-width="0.22" >0.2</text>
<text transform="translate(1628,635) rotate(0.03) scale(1,1.1)" font-size="9" fill="#000" stroke="#000" stroke-width="0.22" >0.00</text>
<text transform="translate(1628,763) rotate(0.03) scale(1,1.1)" font-size="9" fill="#000" stroke="#000" stroke-width="0.22" >-0.4129</text>
<rect class="ce" x="1625" y="631" width="2" height="1" fill="#000"/>
<g id="rsi" class="ce">
<line x1="3" y1="801.5" x2="1624" y2="801.5" stroke="#c0c0c0" stroke-width="1" stroke-dasharray="3 3"/>
<rect x="1625" y="801" width="2" height="1" fill="#000"/>
<line x1="3" y1="848.5" x2="1624" y2="848.5" stroke="#c0c0c0" stroke-width="1" stroke-dasharray="3 3"/>
<rect x="1625" y="848" width="2" height="1" fill="#000"/>
<line x1="3" y1="904.5" x2="1624" y2="904.5" stroke="#c0c0c0" stroke-width="1" stroke-dasharray="3 3"/>
<rect x="1625" y="904" width="2" height="1" fill="#000"/>
</g>
<g clip-path="url(#cRsi)">
<polyline class="ce" points="0.5,829.2 12.5,839.7 28.5,844.4 44.5,841.2 60.5,842.2 76.5,842.2 92.5,843.4 108.5,855.3 124.5,852.6 140.5,870.0 156.5,873.3 172.5,874.5 188.5,880.2 204.5,881.5 220.5,882.2 236.5,878.2 252.5,871.3 268.5,873.3 284.5,873.3 300.5,873.3 316.5,874.5 332.5,869.3 348.5,872.3 364.5,866.5 380.5,865.3 396.5,863.3 412.5,862.3 428.5,861.1 444.5,847.1 460.5,852.6 476.5,860.3 492.5,862.3 508.5,851.4 524.5,847.1 540.5,839.2 556.5,841.2 572.5,840.2 588.5,854.6 604.5,867.5 620.5,864.6 636.5,857.3 652.5,857.3 668.5,862.3 684.5,854.1 700.5,846.4 716.5,858.3 732.5,860.3 748.5,862.8 764.5,871.3 780.5,860.3 796.5,848.4 812.5,842.2 828.5,843.1 844.5,839.2 860.5,840.7 876.5,845.4 892.5,850.1 908.5,857.3 924.5,860.3 940.5,858.3 956.5,847.1 972.5,855.3 988.5,864.1 1004.5,873.3 1020.5,874.3 1036.5,874.3 1052.5,870.0 1068.5,881.2 1084.5,892.2 1100.5,880.5 1116.5,882.2 1132.5,883.2 1148.5,882.2 1164.5,883.2 1180.5,876.3 1196.5,874.3 1212.5,876.1 1228.5,879.8 1244.5,886.6 1260.5,866.5 1276.5,854.4 1292.5,855.5 1308.5,851.6 1324.5,850.2 1340.5,841.7 1356.5,844.3 1372.5,840.6 1388.5,852.4 1404.5,851.3" fill="none" stroke="#1e90ff" stroke-width="1" />
</g>
<text transform="translate(0.5,781) rotate(0.03) scale(1,1.1)" font-size="9" fill="#000" stroke="#000" stroke-width="0.22" textLength="67.3" lengthAdjust="spacingAndGlyphs" >RSI(14) 48.5600</text>
<text transform="translate(1628,779) rotate(0.03) scale(1,1.1)" font-size="9" fill="#000" stroke="#000" stroke-width="0.22" >100</text>
<text transform="translate(1628,805) rotate(0.03) scale(1,1.1)" font-size="9" fill="#000" stroke="#000" stroke-width="0.22" >80</text>
<text transform="translate(1628,852) rotate(0.03) scale(1,1.1)" font-size="9" fill="#000" stroke="#000" stroke-width="0.22" >50</text>
<text transform="translate(1628,908) rotate(0.03) scale(1,1.1)" font-size="9" fill="#000" stroke="#000" stroke-width="0.22" >15</text>
<text transform="translate(1628,925) rotate(0.03) scale(1,1.1)" font-size="9" fill="#000" stroke="#000" stroke-width="0.22" >0</text>
<g id="taxis">
<text transform="translate(-6.3,941) rotate(0.03) scale(1,1.1)" font-size="9" fill="#000" stroke="#000" stroke-width="0.22" >1 Jul 2019</text>
<rect class="ce" x="60" y="929" width="1" height="3" fill="#000"/>
<text transform="translate(59.2,941) rotate(0.03) scale(1,1.1)" font-size="9" fill="#000" stroke="#000" stroke-width="0.22" >1 Jul 16:00</text>
<rect class="ce" x="124" y="929" width="1" height="3" fill="#000"/>
<text transform="translate(123.2,941) rotate(0.03) scale(1,1.1)" font-size="9" fill="#000" stroke="#000" stroke-width="0.22" >2 Jul 08:00</text>
<rect class="ce" x="188" y="929" width="1" height="3" fill="#000"/>
<text transform="translate(187.2,941) rotate(0.03) scale(1,1.1)" font-size="9" fill="#000" stroke="#000" stroke-width="0.22" >3 Jul 00:00</text>
<rect class="ce" x="252" y="929" width="1" height="3" fill="#000"/>
<text transform="translate(251.2,941) rotate(0.03) scale(1,1.1)" font-size="9" fill="#000" stroke="#000" stroke-width="0.22" >3 Jul 16:00</text>
<rect class="ce" x="316" y="929" width="1" height="3" fill="#000"/>
<text transform="translate(315.2,941) rotate(0.03) scale(1,1.1)" font-size="9" fill="#000" stroke="#000" stroke-width="0.22" >4 Jul 08:00</text>
<rect class="ce" x="380" y="929" width="1" height="3" fill="#000"/>
<text transform="translate(379.2,941) rotate(0.03) scale(1,1.1)" font-size="9" fill="#000" stroke="#000" stroke-width="0.22" >5 Jul 00:00</text>
<rect class="ce" x="444" y="929" width="1" height="3" fill="#000"/>
<text transform="translate(443.2,941) rotate(0.03) scale(1,1.1)" font-size="9" fill="#000" stroke="#000" stroke-width="0.22" >5 Jul 16:00</text>
<rect class="ce" x="508" y="929" width="1" height="3" fill="#000"/>
<text transform="translate(507.2,941) rotate(0.03) scale(1,1.1)" font-size="9" fill="#000" stroke="#000" stroke-width="0.22" >8 Jul 08:00</text>
<rect class="ce" x="572" y="929" width="1" height="3" fill="#000"/>
<text transform="translate(571.2,941) rotate(0.03) scale(1,1.1)" font-size="9" fill="#000" stroke="#000" stroke-width="0.22" >9 Jul 00:00</text>
<rect class="ce" x="636" y="929" width="1" height="3" fill="#000"/>
<text transform="translate(635.2,941) rotate(0.03) scale(1,1.1)" font-size="9" fill="#000" stroke="#000" stroke-width="0.22" >9 Jul 16:00</text>
<rect class="ce" x="700" y="929" width="1" height="3" fill="#000"/>
<text transform="translate(699.2,941) rotate(0.03) scale(1,1.1)" font-size="9" fill="#000" stroke="#000" stroke-width="0.22" >10 Jul 08:00</text>
<rect class="ce" x="764" y="929" width="1" height="3" fill="#000"/>
<text transform="translate(763.2,941) rotate(0.03) scale(1,1.1)" font-size="9" fill="#000" stroke="#000" stroke-width="0.22" >11 Jul 00:00</text>
<rect class="ce" x="828" y="929" width="1" height="3" fill="#000"/>
<text transform="translate(827.2,941) rotate(0.03) scale(1,1.1)" font-size="9" fill="#000" stroke="#000" stroke-width="0.22" >11 Jul 16:00</text>
<rect class="ce" x="892" y="929" width="1" height="3" fill="#000"/>
<text transform="translate(891.2,941) rotate(0.03) scale(1,1.1)" font-size="9" fill="#000" stroke="#000" stroke-width="0.22" >12 Jul 08:00</text>
<rect class="ce" x="956" y="929" width="1" height="3" fill="#000"/>
<text transform="translate(955.2,941) rotate(0.03) scale(1,1.1)" font-size="9" fill="#000" stroke="#000" stroke-width="0.22" >15 Jul 00:00</text>
<rect class="ce" x="1020" y="929" width="1" height="3" fill="#000"/>
<text transform="translate(1019.2,941) rotate(0.03) scale(1,1.1)" font-size="9" fill="#000" stroke="#000" stroke-width="0.22" >15 Jul 16:00</text>
<rect class="ce" x="1084" y="929" width="1" height="3" fill="#000"/>
<text transform="translate(1083.2,941) rotate(0.03) scale(1,1.1)" font-size="9" fill="#000" stroke="#000" stroke-width="0.22" >16 Jul 08:00</text>
<rect class="ce" x="1148" y="929" width="1" height="3" fill="#000"/>
<text transform="translate(1147.2,941) rotate(0.03) scale(1,1.1)" font-size="9" fill="#000" stroke="#000" stroke-width="0.22" >17 Jul 00:00</text>
<rect class="ce" x="1212" y="929" width="1" height="3" fill="#000"/>
<text transform="translate(1211.2,941) rotate(0.03) scale(1,1.1)" font-size="9" fill="#000" stroke="#000" stroke-width="0.22" >17 Jul 16:00</text>
<rect class="ce" x="1276" y="929" width="1" height="3" fill="#000"/>
<text transform="translate(1275.2,941) rotate(0.03) scale(1,1.1)" font-size="9" fill="#000" stroke="#000" stroke-width="0.22" >18 Jul 08:00</text>
<rect class="ce" x="1340" y="929" width="1" height="3" fill="#000"/>
<text transform="translate(1339.2,941) rotate(0.03) scale(1,1.1)" font-size="9" fill="#000" stroke="#000" stroke-width="0.22" >19 Jul 00:00</text>
<rect class="ce" x="1404" y="929" width="1" height="3" fill="#000"/>
<text transform="translate(1403.2,941) rotate(0.03) scale(1,1.1)" font-size="9" fill="#000" stroke="#000" stroke-width="0.22" >19 Jul 16:00</text>
</g>
<g id="toolbar">
<rect class="ce" x="0" y="0" width="1671" height="24" fill="#f0f0f0"/>
<rect class="ce" x="0" y="24" width="1671" height="1" fill="#b9b9b9"/>
<rect class="ce" x="0" y="25" width="1671" height="1" fill="#7d7d7d"/>
<g><path d="M0.5,4.5 H4.5 L6.5,6.5 V14.5 H0.5 Z" fill="#fff" stroke="#9a9a9a" stroke-width="1"/><path d="M4.5,4.5 V6.5 H6.5" fill="none" stroke="#9a9a9a" stroke-width="1"/><path d="M1,9.5H5M1,11.5H4" stroke="#b8b8b8" stroke-width="1"/><path d="M3.4,10.6 H7.4 V14.1 H10.9 V18 H7.4 V21.6 H3.4 V18 H-0.2 V14.1 H3.4 Z" fill="#2adf2a" stroke="#0a8c0a" stroke-width="1"/><path d="M4.6,12 V20.4 M1,15.3 H9.8" stroke="#8cf58c" stroke-width="1" fill="none"/></g>
<text x='13.6' y='14.3' font-size='12.3' font-weight='500' fill='#000' textLength='36.3' lengthAdjust='spacingAndGlyphs' font-family='"Liberation Sans", "Noto Sans CJK SC", sans-serif'>新订单</text>
<defs><linearGradient id="gBook" x1="0" y1="0" x2="1" y2="1"><stop offset="0" stop-color="#fff2a8"/><stop offset="0.45" stop-color="#f0c030"/><stop offset="1" stop-color="#b87c10"/></linearGradient><radialGradient id="gSig" cx="0.5" cy="0.5" r="0.5"><stop offset="0" stop-color="#ffffff"/><stop offset="1" stop-color="#dfeedd"/></radialGradient><linearGradient id="gCandle" x1="0" y1="0" x2="1" y2="0"><stop offset="0" stop-color="#10c810"/><stop offset="0.5" stop-color="#90ff90"/><stop offset="1" stop-color="#10c810"/></linearGradient></defs>
<g><path d="M62,13.3 L67.7,5.2 L77.8,12.6 L70.2,19.8 L67.5,19 Z" fill="url(#gBook)" stroke="#a8700c" stroke-width="0.9"/><path d="M70.4,18.6 L77,12.4 M69,19.2 L62.6,14" fill="none" stroke="#8a5a08" stroke-width="1"/><path d="M63.5,13.2 L68,6.8" fill="none" stroke="#fff8d0" stroke-width="1"/></g>
<g><path d="M92,5.5 L99.5,4.2 L103,5.6 V13 H92 Z" fill="#2f9cf0" stroke="#1878d8" stroke-width="0.8"/><path d="M95.5,6.5 L102.5,6 V12.5 H95.5 Z" fill="#bfe2fb"/><path d="M96.8,8.5 H101.5 M96.8,10.3 H100.5" stroke="#2f8ce0" stroke-width="0.9"/><path d="M92.5,19.5 a2.9,2.9 0 0 1 -0.3,-5.7 a3.4,3.4 0 0 1 5.6,-1.6 a3.2,3.2 0 0 1 5.2,1.5 a2.9,2.9 0 0 1 0.6,5.8 Z" fill="#e4ebf5" stroke="#5f88c0" stroke-width="0.9"/><path d="M93,18.3 H103.5" stroke="#b4c4de" stroke-width="1.2"/></g>
<g fill="none"><circle cx="126.2" cy="12.2" r="7.6" fill="url(#gSig)" stroke="#b9cdea" stroke-width="0.8"/><path d="M126.2,12.2 L126.2,19.8 A7.6,7.6 0 0 0 133.8,12.2 Z" fill="#9fd09f" opacity="0.85"/><path d="M120.6,16.8 A7,7 0 0 1 122,6.6" stroke="#5a86d8" stroke-width="1.2"/><path d="M123,15.2 A4.4,4.4 0 0 1 123.6,8.6" stroke="#5a86d8" stroke-width="1.2"/><path d="M129.2,8.8 A4.4,4.4 0 0 1 130.4,13.5" stroke="#8fb0e0" stroke-width="1"/><path d="M126.4,12.5 V19.6" stroke="#1fa81f" stroke-width="1.6"/><circle cx="126.2" cy="11.8" r="1.7" fill="#2a5fd0"/></g>
<g><path d="M145.6,11.2 L157.5,10.8 L156.5,16 L152,19.6 L149.4,18.6 Z" fill="#f6d648" stroke="#c89a18" stroke-width="0.8"/><ellipse cx="153" cy="8.3" rx="7.9" ry="2.6" fill="#4aa0e0" stroke="#2a78b8" stroke-width="0.8"/><path d="M148.8,7.6 C149,3.4 157,3.4 157.2,7.6 Z" fill="#74c0f0" stroke="#2a78b8" stroke-width="0.8"/><circle cx="157.6" cy="15.8" r="4.2" fill="#e02818" stroke="#b01008" stroke-width="0.8"/><rect x="156" y="14.2" width="3.2" height="3.2" fill="#fff"/></g>
<text x='166.8' y='14.3' font-size='12.3' font-weight='500' fill='#000' textLength='46.3' lengthAdjust='spacingAndGlyphs' font-family='"Liberation Sans", "Noto Sans CJK SC", sans-serif'>自动交易</text>
<rect class="ce" x="221" y="0" width="1" height="24" fill="#a0a0a0"/>
<rect class="ce" x="225" y="3" width="3" height="1" fill="#b4b4b4"/>
<rect class="ce" x="225" y="5" width="3" height="1" fill="#b4b4b4"/>
<rect class="ce" x="225" y="7" width="3" height="1" fill="#b4b4b4"/>
<rect class="ce" x="225" y="9" width="3" height="1" fill="#b4b4b4"/>
<rect class="ce" x="225" y="11" width="3" height="1" fill="#b4b4b4"/>
<rect class="ce" x="225" y="13" width="3" height="1" fill="#b4b4b4"/>
<rect class="ce" x="225" y="15" width="3" height="1" fill="#b4b4b4"/>
<rect class="ce" x="225" y="17" width="3" height="1" fill="#b4b4b4"/>
<rect class="ce" x="225" y="19" width="3" height="1" fill="#b4b4b4"/>
<g class="ce" fill="#505050"><rect x="239" y="7" width="1" height="13"/><rect x="237" y="17" width="14" height="1"/></g><polygon points="237.5,9 239.5,6 241.5,9" fill="#505050"/><polygon points="249,15.5 251.5,17.5 249,19.5" fill="#505050"/>
<path d="M243.5,15.5 H246 V8 H248.5" fill="none" stroke="#1a9a1a" stroke-width="1.6"/>
<rect class="ce" x="259" y="0" width="25" height="23" fill="#f7f7f7"/>
<rect class="ce" x="259" y="0" width="1" height="23" fill="#a8a8a8"/>
<rect class="ce" x="259" y="0" width="25" height="1" fill="#a8a8a8"/>
<g class="ce" fill="#505050"><rect x="267" y="7" width="1" height="13"/><rect x="265" y="17" width="14" height="1"/></g><polygon points="265.5,9 267.5,6 269.5,9" fill="#505050"/><polygon points="277,15.5 279.5,17.5 277,19.5" fill="#505050"/>
<rect class="ce" x="273" y="4" width="1" height="12" fill="#0a8a0a"/><rect class="ce" x="271.5" y="6.5" width="4" height="7" fill="url(#gCandle)" stroke="#0a8a0a" stroke-width="1"/>
<g class="ce" fill="#505050"><rect x="295" y="7" width="1" height="13"/><rect x="293" y="17" width="14" height="1"/></g><polygon points="293.5,9 295.5,6 297.5,9" fill="#505050"/><polygon points="305,15.5 307.5,17.5 305,19.5" fill="#505050"/>
<path d="M294,15 Q299,6 302,9 T306,13.5" fill="none" stroke="#1a9a1a" stroke-width="1.3"/>
<rect class="ce" x="316" y="1" width="1" height="21" fill="#a0a0a0"/>
<g><path d="M334.5,13.5 L339.3,18.3" stroke="#a8841c" stroke-width="3" stroke-linecap="round"/><path d="M334.8,13.6 L339,17.8" stroke="#f4dc60" stroke-width="1.4" stroke-linecap="round"/><circle cx="331" cy="10" r="5.4" fill="#dcedfc" stroke="#3f88dc" stroke-width="1.1"/><rect x="328" y="9.1" width="6" height="1.8" fill="#4f8fc4"/><rect x="330.1" y="7" width="1.8" height="6" fill="#4f8fc4"/></g>
<g><path d="M362.5,13.5 L367.3,18.3" stroke="#a8841c" stroke-width="3" stroke-linecap="round"/><path d="M362.8,13.6 L367,17.8" stroke="#f4dc60" stroke-width="1.4" stroke-linecap="round"/><circle cx="359" cy="10" r="5.4" fill="#dcedfc" stroke="#3f88dc" stroke-width="1.1"/><rect x="356" y="9.1" width="6" height="1.8" fill="#4f8fc4"/></g>
<g class="ce"><rect x="381" y="4" width="8" height="8" fill="#3a9a1e"/><rect x="389" y="4" width="8" height="8" fill="#1c50c8"/><rect x="381" y="12" width="8" height="8" fill="#1c50c8"/><rect x="389" y="12" width="8" height="8" fill="#3a9a1e"/><rect x="382" y="6" width="6" height="5" fill="#f2f8ec"/><rect x="390" y="6" width="6" height="5" fill="#eef2fc"/><rect x="382" y="14" width="6" height="5" fill="#eef2fc"/><rect x="390" y="14" width="6" height="5" fill="#f2f8ec"/><rect x="383" y="8" width="4" height="1" fill="#a8d090"/><rect x="391" y="8" width="4" height="1" fill="#90a8e0"/><rect x="383" y="16" width="4" height="1" fill="#90a8e0"/><rect x="391" y="16" width="4" height="1" fill="#a8d090"/></g>
<rect class="ce" x="406" y="1" width="1" height="21" fill="#a0a0a0"/>
<rect class="ce" x="411" y="0" width="25" height="23" fill="#f7f7f7"/>
<rect class="ce" x="411" y="0" width="1" height="23" fill="#a8a8a8"/>
<rect class="ce" x="411" y="0" width="25" height="1" fill="#a8a8a8"/>
<g class="ce" fill="#505050"><rect x="419" y="7" width="1" height="13"/><rect x="417" y="17" width="14" height="1"/></g><polygon points="417.5,9 419.5,6 421.5,9" fill="#505050"/><polygon points="429,15.5 431.5,17.5 429,19.5" fill="#505050"/>
<polygon points="424.5,8 428.8,11.5 424.5,15" fill="#48e048" stroke="#16a016" stroke-width="1"/>
<rect class="ce" x="439" y="0" width="25" height="23" fill="#f7f7f7"/>
<rect class="ce" x="439" y="0" width="1" height="23" fill="#a8a8a8"/>
<rect class="ce" x="439" y="0" width="25" height="1" fill="#a8a8a8"/>
<g class="ce" fill="#505050"><rect x="447" y="7" width="1" height="13"/><rect x="445" y="17" width="14" height="1"/></g><polygon points="445.5,9 447.5,6 449.5,9" fill="#505050"/><polygon points="457,15.5 459.5,17.5 457,19.5" fill="#505050"/>
<rect class="ce" x="453" y="6" width="1" height="10" fill="#1f80a8"/><path d="M459,11.5 H455 M457,9.5 L454.8,11.5 L457,13.5" fill="none" stroke="#d03010" stroke-width="1.2"/>
<rect class="ce" x="468" y="1" width="1" height="21" fill="#a0a0a0"/>
<g><path d="M478.5,5.5 H483.5 L486.5,8.5 V16.5 H478.5 Z" fill="#fff" stroke="#8a8a8a" stroke-width="1"/><path d="M481,5.5 H486 L489,8.5 V16.5 H481 Z" fill="#fafafa" stroke="#8a8a8a" stroke-width="1"/><text x="482" y="14" font-size="8" font-style="italic" fill="#555">f</text><path d="M486,10.2 H490 V13.9 H493.7 V17.8 H490 V21.4 H486 V17.8 H482.4 V13.9 H486 Z" fill="#2adf2a" stroke="#0a8c0a" stroke-width="1"/><path d="M487.2,11.6 V20.2 M483.6,15.1 H492.5" stroke="#8cf58c" stroke-width="1" fill="none"/></g>
<polygon points="499.5,10.5 505.5,10.5 502.5,13.5" fill="#000"/>
<g><circle cx="524" cy="12" r="7.3" fill="#2f7fe0" stroke="#1a4fa8" stroke-width="1.2"/><circle cx="524" cy="12" r="5" fill="#f4f8ff"/><path d="M524,8.5 V12 H526.5" fill="none" stroke="#333" stroke-width="1"/></g>
<polygon points="538.5,10.5 544.5,10.5 541.5,13.5" fill="#000"/>
<g class="ce"><rect x="555.5" y="5.5" width="15" height="13" fill="#fff" stroke="#3a78d0" stroke-width="1"/><rect x="556" y="6" width="14" height="2" fill="#5a98e8"/><rect x="556" y="12" width="14" height="1" fill="#3a78d0"/></g><path d="M557.5,11 L560,10 L563,10.5 L566,9 L569,9.5" fill="none" stroke="#d02020" stroke-width="1.2"/><path d="M557.5,16.5 L560,16 L563,15 L565,16.5 L569,15" fill="none" stroke="#1a9a1a" stroke-width="1.2"/>
<polygon points="577.5,10.5 583.5,10.5 580.5,13.5" fill="#000"/>
<rect class="ce" x="589" y="0" width="1" height="24" fill="#a0a0a0"/>
<rect class="ce" x="593" y="3" width="3" height="1" fill="#b4b4b4"/>
<rect class="ce" x="593" y="5" width="3" height="1" fill="#b4b4b4"/>
<rect class="ce" x="593" y="7" width="3" height="1" fill="#b4b4b4"/>
<rect class="ce" x="593" y="9" width="3" height="1" fill="#b4b4b4"/>
<rect class="ce" x="593" y="11" width="3" height="1" fill="#b4b4b4"/>
<rect class="ce" x="593" y="13" width="3" height="1" fill="#b4b4b4"/>
<rect class="ce" x="593" y="15" width="3" height="1" fill="#b4b4b4"/>
<rect class="ce" x="593" y="17" width="3" height="1" fill="#b4b4b4"/>
<rect class="ce" x="593" y="19" width="3" height="1" fill="#b4b4b4"/>
<rect class="ce" x="599" y="0" width="25" height="23" fill="#f7f7f7"/>
<rect class="ce" x="599" y="0" width="1" height="23" fill="#a8a8a8"/>
<rect class="ce" x="599" y="0" width="25" height="1" fill="#a8a8a8"/>
<path d="M607,5 V17.5 L610,14.5 L612.3,19.5 L614.3,18.6 L612,13.8 L616,13.5 Z" fill="#505050"/>
<g class="ce" fill="#505050"><rect x="639" y="5" width="1" height="6"/><rect x="639" y="14" width="1" height="6"/><rect x="632" y="12" width="6" height="1"/><rect x="641" y="12" width="6" height="1"/></g>
<rect class="ce" x="656" y="1" width="1" height="21" fill="#a0a0a0"/>
<g class="ce" fill="#505050"><rect x="673" y="6" width="1" height="13"/><rect x="695" y="12" width="13" height="1"/></g>
<path d="M724,19 L736,6.5" stroke="#505050" stroke-width="1.1"/>
<g stroke="#505050" stroke-width="1" fill="none"><path d="M750,14 L763,6 M750,18.5 L763,10.5 M753,10 L751.5,19 M757,7.5 L755.5,17 M761,5 L759.5,14.5"/></g><text x="760" y="21" font-size="7" font-weight="bold" fill="#404040">E</text>
<g class="ce" stroke="#505050" stroke-width="1" stroke-dasharray="1 1"><path d="M779,5.5 H792 M779,8.5 H792 M779,12.5 H792 M779,16.5 H787"/></g><text x="788" y="21" font-size="7" font-weight="bold" fill="#404040">F</text>
<text x="809.5" y="16.5" font-size="12.5" font-weight="bold" fill="#5a5a5a">A</text>
<rect class="ce" x="836.5" y="6.5" width="11" height="12" fill="none" stroke="#505050" stroke-width="1" stroke-dasharray="1 1"/><text x="838.2" y="16.6" font-size="11.5" font-weight="bold" fill="#5a5a5a">T</text>
<g fill="#404040"><polygon points="863,9 866.5,5.5 870,9 866.5,11"/><polygon points="870,16 873.5,13.5 877,16 873.5,19.5"/><path d="M865,13 L867.5,15.5 L871,11" fill="none" stroke="#404040" stroke-width="1.3"/></g>
<polygon points="883.5,10.5 889.5,10.5 886.5,13.5" fill="#000"/>
<rect class="ce" x="895" y="0" width="1" height="24" fill="#a0a0a0"/>
<rect class="ce" x="899" y="3" width="3" height="1" fill="#b4b4b4"/>
<rect class="ce" x="899" y="5" width="3" height="1" fill="#b4b4b4"/>
<rect class="ce" x="899" y="7" width="3" height="1" fill="#b4b4b4"/>
<rect class="ce" x="899" y="9" width="3" height="1" fill="#b4b4b4"/>
<rect class="ce" x="899" y="11" width="3" height="1" fill="#b4b4b4"/>
<rect class="ce" x="899" y="13" width="3" height="1" fill="#b4b4b4"/>
<rect class="ce" x="899" y="15" width="3" height="1" fill="#b4b4b4"/>
<rect class="ce" x="899" y="17" width="3" height="1" fill="#b4b4b4"/>
<rect class="ce" x="899" y="19" width="3" height="1" fill="#b4b4b4"/>
<text x="910.5" y="15.4" font-size="9.5" fill="#303030" textLength="13" lengthAdjust="spacingAndGlyphs">M1</text>
<text x="938.5" y="15.4" font-size="9.5" fill="#303030" textLength="13" lengthAdjust="spacingAndGlyphs">M5</text>
<text x="964.4" y="15.4" font-size="9.5" fill="#303030" textLength="18" lengthAdjust="spacingAndGlyphs">M15</text>
<text x="992.4" y="15.4" font-size="9.5" fill="#303030" textLength="18" lengthAdjust="spacingAndGlyphs">M30</text>
<text x="1023.8" y="15.4" font-size="9.5" fill="#303030" textLength="11.5" lengthAdjust="spacingAndGlyphs">H1</text>
<rect class="ce" x="1045" y="0" width="25" height="23" fill="#f7f7f7"/>
<rect class="ce" x="1045" y="0" width="1" height="23" fill="#a8a8a8"/>
<rect class="ce" x="1045" y="0" width="25" height="1" fill="#a8a8a8"/>
<text x="1050.6" y="15.4" font-size="9.5" fill="#303030" textLength="12.7" lengthAdjust="spacingAndGlyphs">H4</text>
<text x="1079.7" y="15.4" font-size="9.5" fill="#303030" textLength="12" lengthAdjust="spacingAndGlyphs">D1</text>
<text x="1107" y="15.4" font-size="9.5" fill="#303030" textLength="14.3" lengthAdjust="spacingAndGlyphs">W1</text>
<text x="1133.7" y="15.4" font-size="9.5" fill="#303030" textLength="15" lengthAdjust="spacingAndGlyphs">MN</text>
<rect class="ce" x="1156" y="0" width="1" height="24" fill="#a0a0a0"/>
<g><circle cx="1627" cy="9.5" r="3.8" fill="#f8fbff" stroke="#2a62d0" stroke-width="1.6"/><path d="M1624.3,12.3 L1619.2,17.2" stroke="#2a62d0" stroke-width="2.2" stroke-linecap="round"/></g>
<g><ellipse cx="1659.5" cy="9.5" rx="6.2" ry="5" fill="#f4f4f4" stroke="#a8a8a8" stroke-width="1"/><path d="M1661,14 L1662.5,16.5 L1663.5,13.5" fill="#f4f4f4" stroke="#a8a8a8" stroke-width="0.8"/><ellipse cx="1650.5" cy="13" rx="5" ry="3.8" fill="#fafafa" stroke="#a0a0a0" stroke-width="1"/><path d="M1648,16 L1647.5,18.5 L1650.5,16.6" fill="#fafafa" stroke="#a0a0a0" stroke-width="0.8"/></g>
</g>
<rect class="ce" x="1670" y="26" width="1" height="923" fill="#e3e3e3"/>
</svg></body></html>
